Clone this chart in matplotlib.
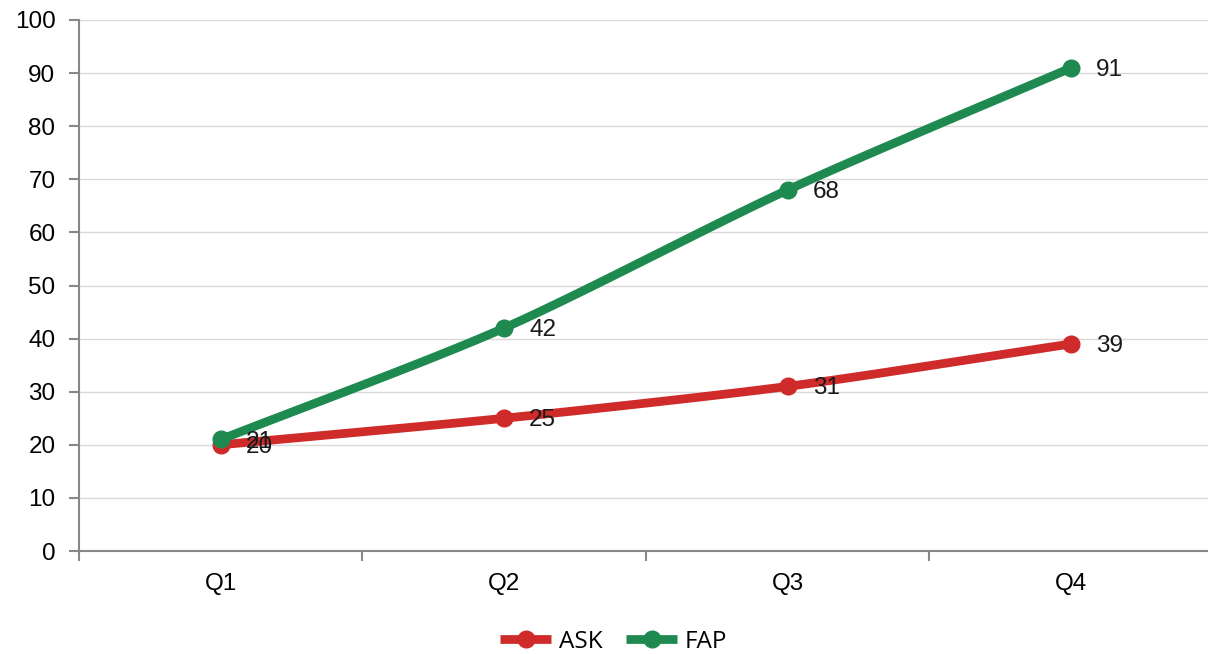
import numpy as np
import matplotlib
matplotlib.use("Agg")
import matplotlib.pyplot as plt
from matplotlib.ticker import FixedLocator

categories = ["Q1", "Q2", "Q3", "Q4"]
ask = [20, 25, 31, 39]
fap = [21, 42, 68, 91]
series_names = ["ASK", "FAP"]
colors = ["#CF2B2B", "#1E8A50"]

plt.rcParams['font.family'] = ['Liberation Sans', 'DejaVu Sans']

W, H = 1208, 654
fig = plt.figure(figsize=(W / 100, H / 100), dpi=100)
left, right, top, bottom = 79, 1213, 20, 551
ax = fig.add_axes([left / W, 1 - bottom / H, (right - left) / W, (bottom - top) / H])


def smooth(xs, ys, n=40):
    # Catmull-Rom style smoothing for drawing the line between data points
    xs = np.asarray(xs, float); ys = np.asarray(ys, float)
    px = np.concatenate([[2 * xs[0] - xs[1]], xs, [2 * xs[-1] - xs[-2]]])
    py = np.concatenate([[2 * ys[0] - ys[1]], ys, [2 * ys[-1] - ys[-2]]])
    ox, oy = [], []
    for i in range(1, len(px) - 2):
        t = np.linspace(0, 1, n)
        for P, out in ((px, ox), (py, oy)):
            p0, p1, p2, p3 = P[i - 1], P[i], P[i + 1], P[i + 2]
            m1 = (p2 - p0) / 2 * 0.8
            m2 = (p3 - p1) / 2 * 0.8
            h00 = 2 * t**3 - 3 * t**2 + 1
            h10 = t**3 - 2 * t**2 + t
            h01 = -2 * t**3 + 3 * t**2
            h11 = t**3 - t**2
            out.extend(h00 * p1 + h10 * m1 + h01 * p2 + h11 * m2)
    return np.array(ox), np.array(oy)


x = np.arange(len(categories))
for vals, name, c in zip([ask, fap], series_names, colors):
    sx, sy = smooth(x, vals)
    ax.plot(sx, sy, color=c, lw=6.3, solid_capstyle='round', zorder=3)
    ax.plot(x, vals, 'o', color=c, ms=12, zorder=4)
    ax.plot([], [], color=c, lw=6.3, marker='o', ms=12, label=name,
            solid_capstyle='butt')
    for xi, v in zip(x, vals):
        ax.annotate(str(v), (xi, v), xytext=(18, -1.5), textcoords='offset points',
                    ha='left', va='center', fontsize=17.5, color='#1a1a1a', zorder=5)

ax.set_xlim(-0.5, 3.5)
ax.set_ylim(0, 100)
ax.set_yticks(range(0, 101, 10))
ax.yaxis.grid(True, color='#d9d9d9', lw=1)
ax.set_axisbelow(True)
ax.set_xticks(x)
ax.set_xticklabels(categories, fontsize=17.5)
ax.xaxis.set_minor_locator(FixedLocator([-0.5, 0.5, 1.5, 2.5, 3.5]))
ax.tick_params(axis='x', which='major', length=0, pad=16)
ax.tick_params(axis='x', which='minor', length=7, color='#888888', width=1.5)
ax.tick_params(axis='y', length=7, color='#888888', width=1.5, labelsize=17.5, pad=10)
for s in ['top', 'right']:
    ax.spines[s].set_visible(False)
for s in ['left', 'bottom']:
    ax.spines[s].set_color('#888888')
    ax.spines[s].set_linewidth(1.5)

leg = fig.legend(loc='center', bbox_to_anchor=(0.508, 1 - 642 / H), ncol=2, frameon=False,
                 handlelength=2.1, columnspacing=1.0, handletextpad=0.3,
                 prop={'family': 'Open Sans', 'size': 17.5})

fig.savefig("out.png", dpi=100)
